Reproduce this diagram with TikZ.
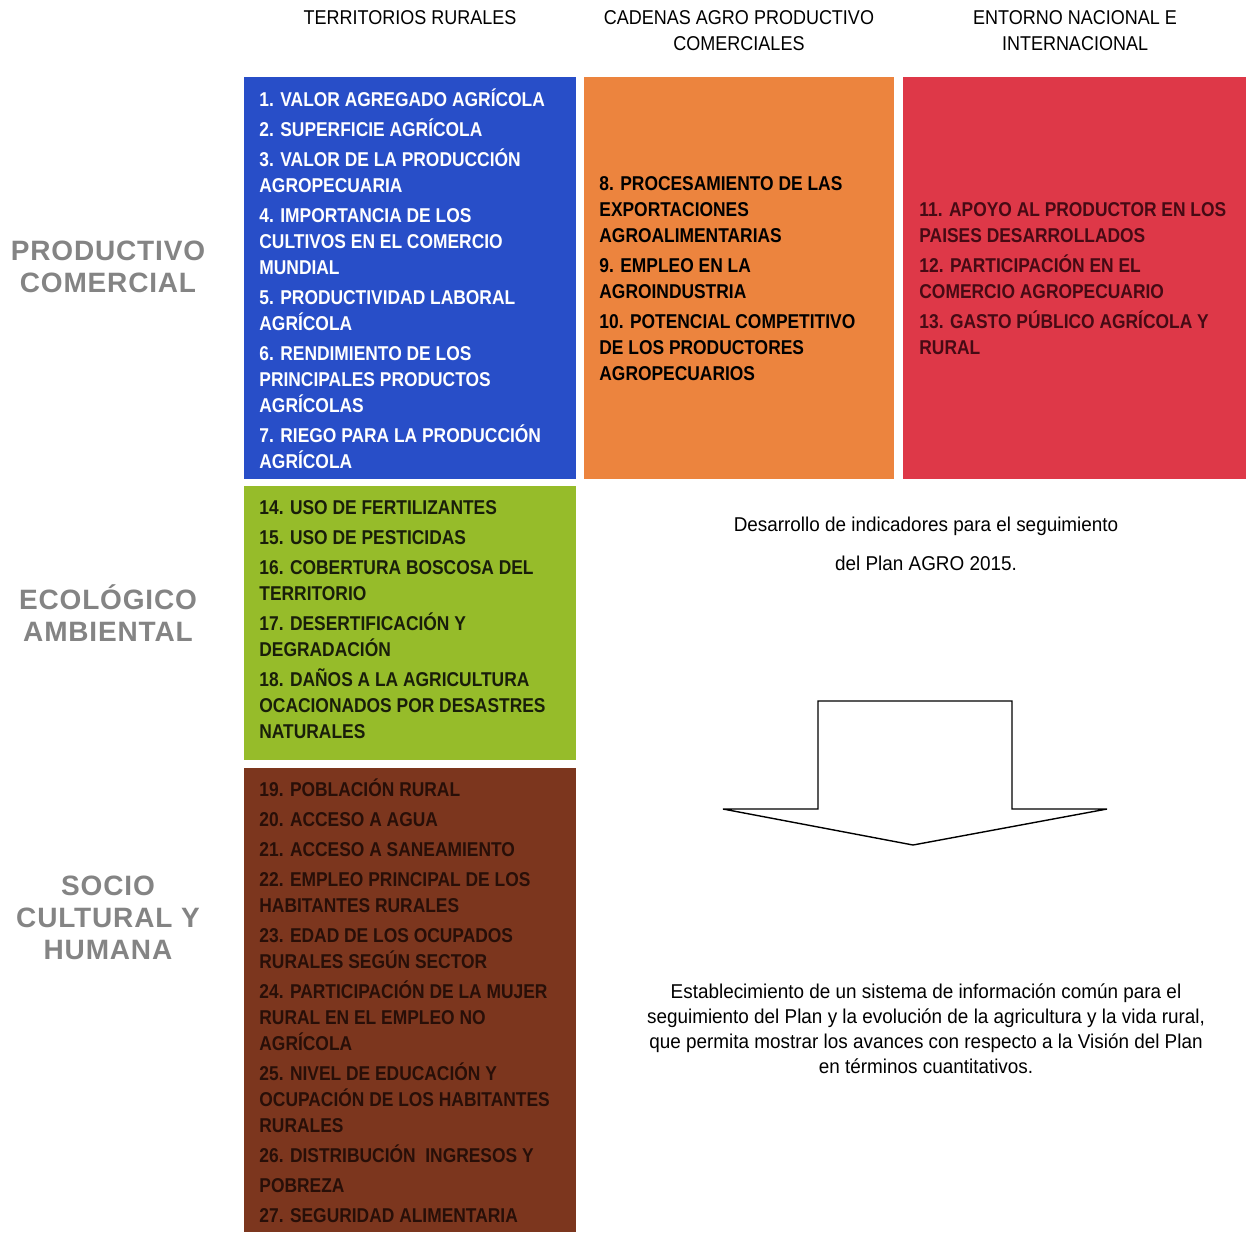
\documentclass[tikz,border=0pt]{standalone}
\usepackage{fontspec}
\newfontfamily\itemfont{Liberation Sans}[FakeStretch=0.87]
\newfontfamily\headfont{Liberation Sans}[FakeStretch=0.9]
\newfontfamily\plainfont{Liberation Sans}[FakeStretch=0.945]
\newfontfamily\dimfont{Liberation Sans}[LetterSpace=3]
\definecolor{cblue}{RGB}{40,78,200}
\definecolor{corange}{RGB}{236,132,62}
\definecolor{cred}{RGB}{222,56,72}
\definecolor{cgreen}{RGB}{150,188,42}
\definecolor{cbrown}{RGB}{124,54,30}
\definecolor{tred}{RGB}{70,10,20}
\definecolor{tbrown}{RGB}{40,15,8}
\definecolor{tgreen}{RGB}{25,30,10}
\definecolor{tgray}{RGB}{132,132,132}
\begin{document}
\begin{tikzpicture}[x=0.5pt,y=-0.5pt,
  box/.style={draw=none, inner sep=0pt, anchor=north west},
  items/.style={inner sep=0pt, anchor=west, align=left,
    font=\itemfont\bfseries\fontsize{10}{13}\selectfont},
  head/.style={inner sep=0pt, align=center,
    font=\headfont\fontsize{10}{13}\selectfont},
  dim/.style={inner sep=0pt, align=center, text=tgray,
    font=\dimfont\bfseries\fontsize{14}{16}\selectfont},
  plain/.style={inner sep=0pt, align=center,
    font=\plainfont\fontsize{10}{12.5}\selectfont}]
\useasboundingbox (0,0) rectangle (1246,1232);

% headers
\node[head] (h1) at (410,18) {TERRITORIOS RURALES};
\node[head] (h2) at (739,31) {CADENAS AGRO PRODUCTIVO\\COMERCIALES};
\node[head] (h3) at (1075,31) {ENTORNO NACIONAL E\\INTERNACIONAL};

% dimension labels
\node[dim] (d1) at (108,267) {PRODUCTIVO\\COMERCIAL};
\node[dim] (d2) at (108,613) {ECOLÓGICO\\AMBIENTAL};
\node[dim] (d3) at (108,918) {SOCIO\\CULTURAL Y\\HUMANA};

% boxes
\node[box, fill=cblue, minimum width=166pt, minimum height=201pt] (bBlue) at (244,77) {};
\node[box, fill=corange, minimum width=155pt, minimum height=201pt] (bOrange) at (584,77) {};
\node[box, fill=cred, minimum width=171.5pt, minimum height=201pt] (bRed) at (903,77) {};
\node[box, fill=cgreen, minimum width=166pt, minimum height=137pt] (bGreen) at (244,486) {};
\node[box, fill=cbrown, minimum width=166pt, minimum height=232pt] (bBrown) at (244,768) {};

\node[items, text=white] (tBlue) at ([xshift=7.5pt]bBlue.west) {%
1. VALOR AGREGADO AGRÍCOLA\\[2pt]
2. SUPERFICIE AGRÍCOLA\\[2pt]
3. VALOR DE LA PRODUCCIÓN\\
AGROPECUARIA\\[2pt]
4. IMPORTANCIA DE LOS\\
CULTIVOS EN EL COMERCIO\\
MUNDIAL\\[2pt]
5. PRODUCTIVIDAD LABORAL\\
AGRÍCOLA\\[2pt]
6. RENDIMIENTO DE LOS\\
PRINCIPALES PRODUCTOS\\
AGRÍCOLAS\\[2pt]
7. RIEGO PARA LA PRODUCCIÓN\\
AGRÍCOLA};

\node[items, text=black] (tOrange) at ([xshift=7.5pt]bOrange.west) {%
8. PROCESAMIENTO DE LAS\\
EXPORTACIONES\\
AGROALIMENTARIAS\\[2pt]
9. EMPLEO EN LA\\
AGROINDUSTRIA\\[2pt]
10. POTENCIAL COMPETITIVO\\
DE LOS PRODUCTORES\\
AGROPECUARIOS};

\node[items, text=tred] (tRed) at ([xshift=8pt]bRed.west) {%
11. APOYO AL PRODUCTOR EN LOS\\
PAISES DESARROLLADOS\\[2pt]
12. PARTICIPACIÓN EN EL\\
COMERCIO AGROPECUARIO\\[2pt]
13. GASTO PÚBLICO AGRÍCOLA Y\\
RURAL};

\node[items, text=tgreen] (tGreen) at ([xshift=7.5pt,yshift=2pt]bGreen.west) {%
14. USO DE FERTILIZANTES\\[2pt]
15. USO DE PESTICIDAS\\[2pt]
16. COBERTURA BOSCOSA DEL\\
TERRITORIO\\[2pt]
17. DESERTIFICACIÓN Y\\
DEGRADACIÓN\\[2pt]
18. DAÑOS A LA AGRICULTURA\\
OCACIONADOS POR DESASTRES\\
NATURALES};

\node[items, text=tbrown] (tBrown) at ([xshift=7.5pt]bBrown.west) {%
19. POBLACIÓN RURAL\\[2pt]
20. ACCESO A AGUA\\[2pt]
21. ACCESO A SANEAMIENTO\\[2pt]
22. EMPLEO PRINCIPAL DE LOS\\
HABITANTES RURALES\\[2pt]
23. EDAD DE LOS OCUPADOS\\
RURALES SEGÚN SECTOR\\[2pt]
24. PARTICIPACIÓN DE LA MUJER\\
RURAL EN EL EMPLEO NO\\
AGRÍCOLA\\[2pt]
25. NIVEL DE EDUCACIÓN Y\\
OCUPACIÓN DE LOS HABITANTES\\
RURALES\\[2pt]
26. DISTRIBUCIÓN\ \ INGRESOS Y\\[2pt]
POBREZA\\[2pt]
27. SEGURIDAD ALIMENTARIA};

% right texts
\node[plain, font=\plainfont\fontsize{10}{19.5}\selectfont] (m1) at (926,544) {Desarrollo de indicadores para el seguimiento\\del Plan AGRO 2015.};
\node[plain] (m2) at (926,1029) {Establecimiento de un sistema de información común para el\\seguimiento del Plan y la evolución de la agricultura y la vida rural,\\que permita mostrar los avances con respecto a la Visión del Plan\\en términos cuantitativos.};

% block arrow
\draw[line width=0.7pt, line join=miter] (818,701) -- (1012,701) -- (1012,809) -- (1107,809) -- (913,845) -- (723,809) -- (818,809) -- cycle;
\end{tikzpicture}
\end{document}
